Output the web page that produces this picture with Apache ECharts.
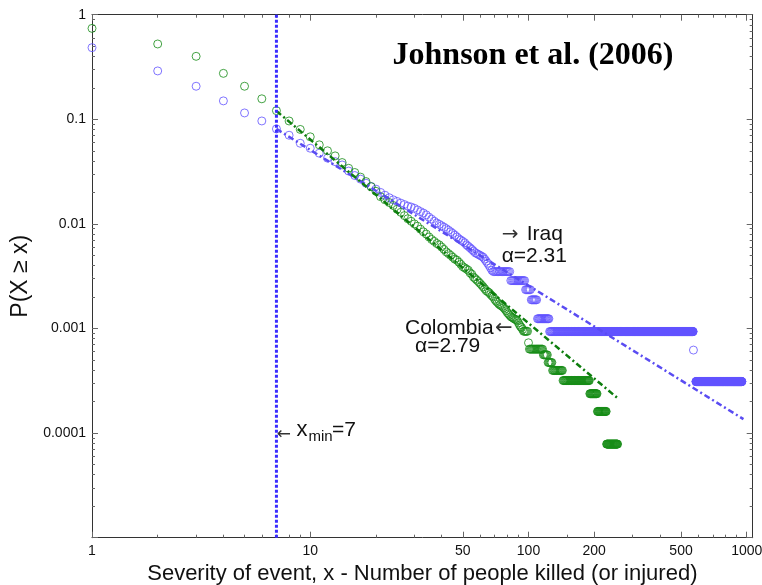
<!DOCTYPE html>
<html>
<head>
<meta charset="utf-8">
<script src="https://cdn.jsdelivr.net/npm/echarts@6/dist/echarts.min.js"></script>
<style>
  html, body { margin: 0; padding: 0; background: #fff; }
  #chart { width: 762px; height: 585px; }
</style>
</head>
<body>
<div id="chart"></div>
<script>
// Empirical CCDF P(X >= x) of event severity.
// Head arrays hold one value per integer x, starting at x = 1.
const colombiaHead = [
  0.74, 0.525, 0.40, 0.275, 0.207, 0.157, 0.121, 0.0964, 0.080, 0.068,
  0.057, 0.050, 0.0447, 0.0386, 0.034, 0.031, 0.028, 0.0254, 0.0227, 0.0205,
  0.0182, 0.0170, 0.0160, 0.0150, 0.0138, 0.0129, 0.0120, 0.0112, 0.0106, 0.0100,
  0.0095, 0.0089, 0.0084, 0.0080, 0.0075, 0.0071, 0.0068, 0.0065, 0.0063, 0.0060,
  0.0057, 0.0054, 0.0052, 0.0050, 0.0048, 0.0046, 0.0045, 0.0043, 0.0041, 0.0039,
  0.0038, 0.0037, 0.0036, 0.0034, 0.0033, 0.0031, 0.0030, 0.0029, 0.0028, 0.0027,
  0.0026, 0.0025, 0.0024, 0.0023, 0.00225, 0.0022, 0.00212, 0.00205, 0.0020, 0.0019,
  0.00183, 0.00178, 0.00172, 0.00168, 0.00165, 0.00162, 0.00158, 0.00153, 0.00148, 0.00142,
  0.00138, 0.00134, 0.0013, 0.00128, 0.00126, 0.00124, 0.00122, 0.00121, 0.00118, 0.00113,
  0.00108, 0.00104, 0.00102, 0.00098, 0.00094, 0.00094, 0.00094, 0.00094, 0.00094
];
// Tail: runs of equal probability, [first x, last x, P]
const colombiaTail = [
  [100, 100, 0.00073],
  [101, 116, 0.000635],
  [117, 122, 0.00056],
  [123, 128, 0.000473],
  [129, 143, 0.000397],
  [144, 190, 0.000318],
  [191, 206, 0.000238],
  [207, 227, 0.000161],
  [228, 256, 0.0000785]
];

const iraqHead = [
  0.484, 0.29, 0.207, 0.150, 0.115, 0.0964, 0.0809, 0.0704, 0.059, 0.0529,
  0.0474, 0.0425, 0.0394, 0.0366, 0.0320, 0.0290, 0.0268, 0.0245, 0.0228, 0.0215,
  0.0200, 0.0188, 0.0178, 0.0170, 0.0164, 0.0158, 0.0153, 0.0148, 0.0145, 0.0141,
  0.0136, 0.0131, 0.0127, 0.0122, 0.0116, 0.0111, 0.0106, 0.0102, 0.0099, 0.0096,
  0.0093, 0.0090, 0.0087, 0.0084, 0.0081, 0.0078, 0.0075, 0.0072, 0.0070, 0.0068,
  0.0066, 0.0063, 0.0061, 0.0059, 0.0057, 0.0055, 0.0053, 0.0052, 0.0051, 0.0050,
  0.0049, 0.0048, 0.0046, 0.0044, 0.0042, 0.0040, 0.0038, 0.0036
];
const iraqTail = [
  [69, 82, 0.0035],
  [83, 96, 0.00287],
  [97, 102, 0.00235],
  [103, 109, 0.00188],
  [110, 124, 0.00124],
  [125, 568, 0.000935],
  [570, 570, 0.000622],
  [585, 950, 0.000311]
];

// Power-law fits drawn from x_min (end points of each fitted line)
const xMin = 7;
const colombiaFit = [[7, 0.12], [258, 0.000213]];
const iraqFit = [[7, 0.0809], [966, 0.000136]];

// Axis extents and ticks
const xRange = [1, 1065];
const yRange = [0.00001, 1];
const xMajorTicks = [1, 10, 50, 100, 200, 500, 1000];
const xTickLabels = ['1', '10', '50', '100', '200', '500', '1000'];
const xMinorTicks = [2, 3, 4, 5, 6, 7, 8, 9, 20, 30, 40, 60, 70, 80, 90, 150, 300, 400, 600, 700, 800, 900];
const yMajorTicks = [0.00001, 0.0001, 0.001, 0.01, 0.1, 1];
const yLabelTicks = [0.0001, 0.001, 0.01, 0.1, 1];
const yTickLabels = ['0.0001', '0.001', '0.01', '0.1', '1'];
const yMinorTicks = [];
[0.00001, 0.0001, 0.001, 0.01, 0.1].forEach(function (d) {
  for (let k = 2; k <= 9; k++) yMinorTicks.push(+(d * k).toPrecision(3));
});

const GREEN = '#178c17';
const GREEN_FIT = '#0d7d0d';
const BLUE = '#6152ff';
const BLUE_FIT = '#5a4cf2';
const FONT = '"Liberation Sans", Arial, Helvetica, sans-serif';
const ARROW_FONT = '"DejaVu Sans", sans-serif';

function expand(head, tail) {
  const out = head.map(function (p, i) { return [i + 1, p]; });
  tail.forEach(function (r) {
    for (let x = r[0]; x <= r[1]; x++) out.push([x, r[2]]);
  });
  return out;
}

function labelFor(ticks, labels) {
  return function (v) {
    let best = 0;
    for (let i = 1; i < ticks.length; i++) {
      if (Math.abs(Math.log10(ticks[i]) - Math.log10(v)) < Math.abs(Math.log10(ticks[best]) - Math.log10(v))) best = i;
    }
    return labels[best];
  };
}

function axis(kind, position, tickValues, tickLen, withLine, labelValues, labels) {
  const range = kind === 'x' ? xRange : yRange;
  const a = {
    type: 'log',
    logBase: 10,
    min: range[0],
    max: range[1],
    position: position,
    gridIndex: 0,
    splitLine: { show: false },
    minorTick: { show: false },
    minorSplitLine: { show: false },
    axisLine: { show: withLine, onZero: false, lineStyle: { color: '#333', width: 1 } },
    axisTick: {
      show: true, inside: true, length: tickLen,
      customValues: tickValues,
      lineStyle: { color: '#666', width: 1 }
    },
    axisLabel: { show: false },
    axisPointer: { show: false }
  };
  if (labelValues) {
    a.axisLabel = {
      show: true,
      customValues: labelValues,
      formatter: labelFor(labelValues, labels),
      color: '#111',
      fontSize: 14,
      fontFamily: FONT,
      margin: 6
    };
  }
  return a;
}

const chart = echarts.init(document.getElementById('chart'), null, { renderer: 'canvas' });

const option = {
  animation: false,
  backgroundColor: '#fff',
  grid: { left: 92, right: 9.3, top: 14.7, bottom: 47.3, containLabel: false, outerBoundsMode: 'none' },
  xAxis: [
    Object.assign(axis('x', 'bottom', xMajorTicks, 6, true, xMajorTicks, xTickLabels), {
      name: 'Severity of event, x - Number of people killed (or injured)',
      nameLocation: 'middle',
      nameGap: 22,
      nameTextStyle: { fontSize: 22, fontFamily: FONT, color: '#111' }
    }),
    axis('x', 'bottom', xMinorTicks, 3, false),
    axis('x', 'top', xMajorTicks, 6, true),
    axis('x', 'top', xMinorTicks, 3, false)
  ],
  yAxis: [
    Object.assign(axis('y', 'left', yMajorTicks, 6, true, yLabelTicks, yTickLabels), {
      name: 'P(X \u2265 x)',
      nameLocation: 'middle',
      nameGap: 59,
      nameTextStyle: { fontSize: 23, fontFamily: FONT, color: '#111' }
    }),
    axis('y', 'left', yMinorTicks, 3, false),
    axis('y', 'right', yMajorTicks, 6, true),
    axis('y', 'right', yMinorTicks, 3, false)
  ],
  series: [
    {
      name: 'Iraq',
      type: 'scatter',
      xAxisIndex: 0, yAxisIndex: 0,
      data: expand(iraqHead, iraqTail),
      symbol: 'circle',
      symbolSize: 8,
      itemStyle: { color: 'rgba(0,0,0,0)', borderColor: BLUE, borderWidth: 1 },
      emphasis: { disabled: true },
      silent: true
    },
    {
      name: 'Colombia',
      type: 'scatter',
      xAxisIndex: 0, yAxisIndex: 0,
      data: expand(colombiaHead, colombiaTail),
      symbol: 'circle',
      symbolSize: 8,
      itemStyle: { color: 'rgba(0,0,0,0)', borderColor: GREEN, borderWidth: 1 },
      emphasis: { disabled: true },
      silent: true
    },
    {
      name: 'Iraq fit',
      type: 'line',
      data: iraqFit,
      showSymbol: false,
      symbol: 'none',
      lineStyle: { color: BLUE_FIT, width: 2.5, type: [6, 3, 2, 3] },
      emphasis: { disabled: true },
      silent: true
    },
    {
      name: 'Colombia fit',
      type: 'line',
      data: colombiaFit,
      showSymbol: false,
      symbol: 'none',
      lineStyle: { color: GREEN_FIT, width: 2.5, type: [6, 3, 2, 3] },
      emphasis: { disabled: true },
      silent: true
    },
    {
      name: 'x_min',
      type: 'line',
      data: [[xMin, yRange[0]], [xMin, yRange[1]]],
      showSymbol: false,
      symbol: 'none',
      lineStyle: { color: '#3a2cff', width: 3, type: [3, 2] },
      emphasis: { disabled: true },
      silent: true,
      z: 3
    }
  ],
  graphic: [
    { type: 'text', x: 533, y: 55.5, style: { text: 'Johnson et al. (2006)', font: 'bold 32px "Liberation Serif", "Times New Roman", serif', fill: '#000', align: 'center', verticalAlign: 'middle' } },

    { type: 'text', x: 501.7, y: 235, style: { text: '\u2192', font: '20px ' + ARROW_FONT, fill: '#333', align: 'left', verticalAlign: 'middle' } },
    { type: 'text', x: 526.7, y: 234.4, style: { text: 'Iraq', font: '21px ' + FONT, fill: '#111', align: 'left', verticalAlign: 'middle' } },
    { type: 'text', x: 501.7, y: 255.8, style: { text: '\u03b1=2.31', font: '21px ' + FONT, fill: '#111', align: 'left', verticalAlign: 'middle' } },

    { type: 'text', x: 405, y: 328.3, style: { text: 'Colombia', font: '21px ' + FONT, fill: '#111', align: 'left', verticalAlign: 'middle' } },
    { type: 'text', x: 495, y: 329, style: { text: '\u2190', font: '21px ' + ARROW_FONT, fill: '#333', align: 'left', verticalAlign: 'middle' } },
    { type: 'text', x: 415, y: 345.8, style: { text: '\u03b1=2.79', font: '21px ' + FONT, fill: '#111', align: 'left', verticalAlign: 'middle' } },

    { type: 'text', x: 276.7, y: 435, style: { text: '\u2190', font: '17px ' + ARROW_FONT, fill: '#333', align: 'left', verticalAlign: 'middle' } },
    { type: 'text', x: 296.5, y: 430, style: { text: 'x', font: '22px ' + FONT, fill: '#111', align: 'left', verticalAlign: 'middle' } },
    { type: 'text', x: 308.5, y: 436.5, style: { text: 'min', font: '15px ' + FONT, fill: '#111', align: 'left', verticalAlign: 'middle' } },
    { type: 'text', x: 332, y: 430.2, style: { text: '=7', font: '21px ' + FONT, fill: '#111', align: 'left', verticalAlign: 'middle' } }
  ]
};

chart.setOption(option);
</script>
</body>
</html>
